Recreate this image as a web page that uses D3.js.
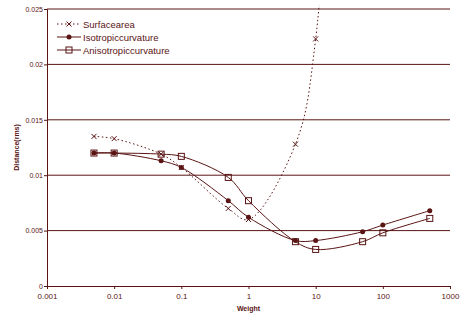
<!DOCTYPE html>
<meta charset="utf-8" />
<title>Distance vs Weight</title>
<style>
  body { margin: 0; background: #fff; }
  svg { display: block; }
  text { font-family: "Liberation Sans", Arial, sans-serif; fill: #5a1414; }
  .grid line { stroke: #5a1414; stroke-width: 1px; }
  .series { fill: none; stroke: #5a1414; stroke-width: 1px; }
</style>
<body>
<svg width="460" height="323"></svg>
<script src="https://cdn.jsdelivr.net/npm/d3@7"></script>
<script>
  // weights on the x axis
  const weights = [0.005, 0.01, 0.05, 0.1, 0.5, 1, 5, 10, 50, 100, 500];
  // surface area curve runs off the top after 10
  const surfaceWeights = [0.005, 0.01, 0.05, 0.1, 0.5, 1, 5, 10, 50];
  const surfaceArea = [0.0135, 0.0133, 0.0119, 0.0107, 0.0070, 0.0060, 0.0128, 0.0223, 0.1];
  const isotropic = [0.0120, 0.0120, 0.0113, 0.0107, 0.0077, 0.0062, 0.0041, 0.0041, 0.0049, 0.0055, 0.0068];
  const anisotropic = [0.0120, 0.0120, 0.0119, 0.0117, 0.0098, 0.0077, 0.0040, 0.0033, 0.0040, 0.0048, 0.0061];
  const xTicks = [0.001, 0.01, 0.1, 1, 10, 100, 1000];
  const yTicks = [0, 0.005, 0.01, 0.015, 0.02, 0.025];
  const seriesNames = ["Surfacearea", "Isotropiccurvature", "Anisotropiccurvature"];

  const col = "#5a1414";
  const svg = d3.select("svg");
  const mLeft = 47, mRight = 450, mTop = 9, mBottom = 286;

  const x = d3.scaleLog().domain([0.001, 1000]).range([mLeft, mRight]);
  const y = d3.scaleLinear().domain([0, 0.025]).range([mBottom, mTop]);

  // gridlines
  svg.append("g").attr("class", "grid")
    .selectAll("line")
    .data(yTicks.filter(d => d > 0))
    .enter().append("line")
    .attr("x1", mLeft).attr("x2", mRight)
    .attr("y1", d => y(d)).attr("y2", d => y(d));

  // axes
  const yAxis = svg.append("g")
    .attr("transform", `translate(${mLeft},0)`)
    .call(d3.axisLeft(y).tickValues(yTicks).tickSize(3).tickFormat(d => d === 0 ? "0" : String(+d.toFixed(3))));
  yAxis.selectAll("text").style("font-size", "7px").attr("x", -4);

  const xAxis = svg.append("g")
    .attr("transform", `translate(0,${mBottom})`)
    .call(d3.axisBottom(x).tickValues(xTicks).tickSize(3).tickFormat(d => String(d)));
  xAxis.selectAll("text").style("font-size", "8px").attr("y", 7);

  svg.selectAll(".domain, .tick line").attr("stroke", col);
  svg.selectAll(".tick text").attr("fill", col);

  // axis titles
  svg.append("text")
    .attr("x", (mLeft + mRight) / 2).attr("y", 311)
    .attr("text-anchor", "middle")
    .style("font-size", "7px").style("font-weight", "bold")
    .text("Weight");
  svg.append("text")
    .attr("transform", `translate(19,${(mTop + mBottom) / 2}) rotate(-90)`)
    .attr("text-anchor", "middle")
    .style("font-size", "7px").style("font-weight", "bold")
    .text("Distance(rms)");

  // clip for the curve that leaves the plot
  svg.append("clipPath").attr("id", "plot")
    .append("rect").attr("x", mLeft).attr("y", 5).attr("width", mRight - mLeft).attr("height", mBottom - 5);

  const line = d3.line()
    .x(d => x(d[0])).y(d => y(d[1]))
    .curve(d3.curveCatmullRom.alpha(0.5));

  const surf = surfaceWeights.map((w, i) => [w, surfaceArea[i]]);
  const iso = weights.map((w, i) => [w, isotropic[i]]);
  const aniso = weights.map((w, i) => [w, anisotropic[i]]);

  const plot = svg.append("g").attr("clip-path", "url(#plot)");
  plot.append("path").attr("class", "series").attr("d", line(surf)).attr("stroke-dasharray", "1.5,2.5");
  plot.append("path").attr("class", "series").attr("d", line(iso));
  plot.append("path").attr("class", "series").attr("d", line(aniso));

  function cross(g, cx, cy) {
    const s = 2.5;
    g.append("path")
      .attr("d", `M${cx - s},${cy - s}L${cx + s},${cy + s}M${cx - s},${cy + s}L${cx + s},${cy - s}`)
      .attr("stroke", col).attr("fill", "none");
  }
  function dot(g, cx, cy) {
    g.append("circle").attr("cx", cx).attr("cy", cy).attr("r", 2.5).attr("fill", col);
  }
  function square(g, cx, cy) {
    g.append("rect").attr("x", cx - 3).attr("y", cy - 3).attr("width", 6).attr("height", 6)
      .attr("fill", "none").attr("stroke", col);
  }

  const marks = svg.append("g");
  surf.filter(d => d[1] <= 0.025).forEach(d => cross(marks, x(d[0]), y(d[1])));
  iso.forEach(d => dot(marks, x(d[0]), y(d[1])));
  aniso.forEach(d => square(marks, x(d[0]), y(d[1])));

  // legend
  const legend = svg.append("g");
  const markers = [cross, dot, square];
  seriesNames.forEach((name, i) => {
    const ly = 24 + i * 13;
    legend.append("line")
      .attr("x1", 57).attr("x2", 81).attr("y1", ly).attr("y2", ly)
      .attr("stroke", col).attr("stroke-dasharray", i === 0 ? "1.5,2.5" : null);
    markers[i](legend, 69, ly);
    legend.append("text").attr("x", 83).attr("y", ly + 3.5)
      .style("font-size", "9.5px").text(name);
  });
</script>
</body>
